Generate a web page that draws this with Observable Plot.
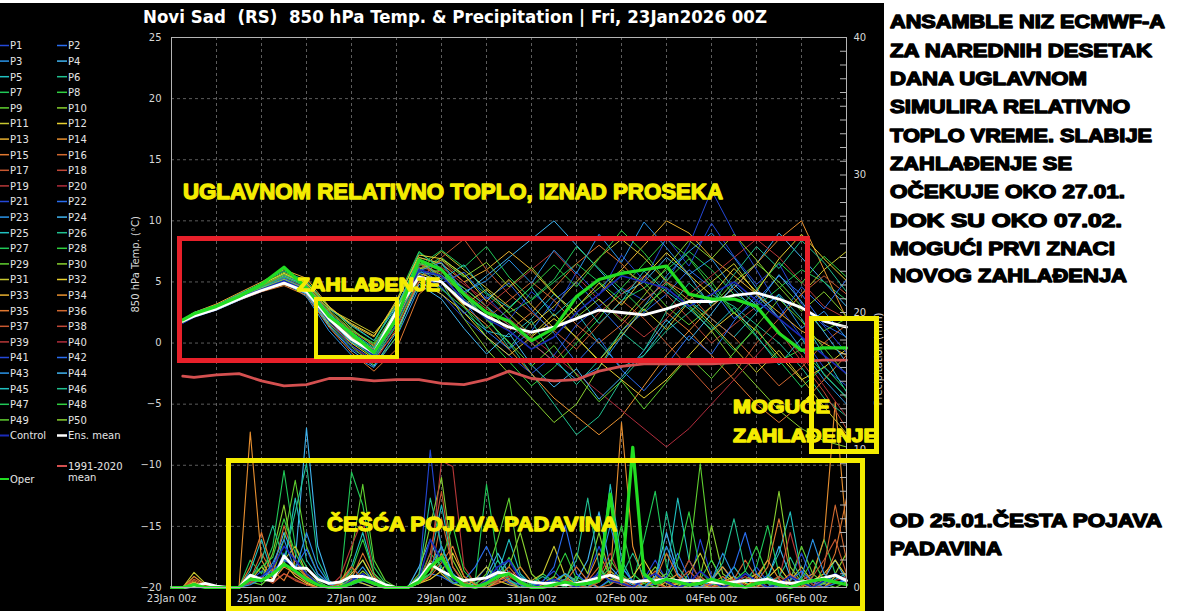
<!DOCTYPE html>
<html><head><meta charset="utf-8">
<script src="https://cdn.jsdelivr.net/npm/d3@7"></script>
<script src="https://cdn.jsdelivr.net/npm/@observablehq/plot@0.6"></script>
<style>
html,body{margin:0;padding:0;background:#fff;}
#wrap{position:relative;width:1200px;height:611px;overflow:hidden;background:#fff;}
#panel{position:absolute;left:0;top:3px;width:884px;height:608px;background:#000;}
#chart{position:absolute;left:0;top:0;}
#over{position:absolute;left:0;top:0;}
</style></head>
<body><div id="wrap"><div id="panel"></div><div id="chart"></div><svg id="over" width="1200" height="611" xmlns="http://www.w3.org/2000/svg"></svg></div>
<script>
// ---------- time grids (hours after 23 Jan 2026 00Z) ----------
const hoursT = [6,12,24,36,48,60,72,84,96,108,120,132,144,156,168,180,192,204,216,228,240,252,264,276,288,300,312,324,336,348,360];
const hoursP = d3.range(0, 361, 6);

// ---------- 850 hPa temperature (°C) ----------
const tempMean = [1.8,2.2,2.8,3.6,4.3,4.9,4.2,2.0,0.3,-0.8,2.6,5.4,5.0,3.3,2.2,1.3,0.9,1.3,2.0,2.7,2.5,2.3,2.8,3.4,3.4,3.9,4.1,3.6,2.9,1.8,1.3];
const tempOper = [1.9,2.4,3.0,3.8,4.8,6.2,4.5,2.2,0.8,-0.8,2.0,6.8,6.0,4.0,2.5,1.8,0.2,1.2,3.8,5.2,5.7,6.0,6.3,4.0,3.6,3.6,3.0,0.8,-0.6,-0.4,-0.4];
const tempClim = [-2.7,-2.8,-2.6,-2.5,-3.1,-3.5,-3.4,-2.9,-2.9,-3.1,-3.0,-3.0,-3.3,-3.4,-3.0,-2.3,-2.9,-3.1,-3.0,-2.3,-1.9,-1.7,-1.7,-1.7,-1.7,-1.6,-1.6,-1.5,-1.5,-1.4,-1.4];
const tempControl = [1.8,2.3,2.9,3.7,4.4,5.1,4.3,2.0,0.3,-1.0,2.0,6.0,5.5,3.5,2.0,1.0,-0.5,0.5,2.5,4.0,5.5,5.0,4.5,3.0,4.0,5.0,3.5,2.0,0.5,-1.0,-2.5];
const tempP01 = [1.6,2.1,2.7,3.5,4.2,4.8,4.0,1.5,-0.5,-1.5,1.5,5.0,4.0,2.0,0.5,-1.0,-2.5,-1.0,1.5,3.0,4.5,3.5,5.0,8.0,12.5,9.0,6.0,3.0,0.5,-2.0,-3.5];
const tempP02 = [1.9,2.4,3.0,3.9,4.6,5.4,4.6,2.5,0.5,-1.0,2.0,5.8,5.5,3.5,1.0,-0.5,1.0,3.5,5.0,3.0,1.0,2.5,4.0,6.0,4.5,2.0,3.5,5.5,4.0,1.5,0.5];
const tempP03 = [1.8,2.2,2.8,3.6,4.3,5.0,3.8,1.0,-1.0,-2.0,0.5,4.5,5.5,4.5,3.0,1.5,0.0,-1.5,-3.0,-2.0,0.5,3.0,5.5,7.5,9.0,7.0,4.5,2.0,-0.5,-3.0,-5.0];
const tempP04 = [1.7,2.3,3.0,3.8,4.5,5.2,4.5,2.8,1.5,0.2,3.0,6.5,6.0,4.0,5.5,7.0,8.5,10.0,8.0,6.0,4.0,5.0,7.0,5.5,3.0,4.5,6.5,9.0,7.0,5.0,3.0];
const tempP05 = [1.8,2.3,2.9,3.6,4.3,4.9,4.4,2.0,0.0,-0.8,2.5,6.0,4.5,2.5,1.0,0.5,2.0,4.0,2.5,0.0,-2.0,-1.0,1.5,3.5,2.0,0.5,2.5,4.0,2.0,-1.0,-4.0];
const tempP06 = [1.9,2.5,3.1,3.9,4.7,5.6,4.8,2.2,0.8,-0.5,2.8,7.0,6.5,4.0,2.0,0.0,-2.5,-5.0,-7.5,-6.0,-3.0,-1.0,1.0,2.5,4.0,3.0,1.5,0.0,-2.0,-4.5,-6.0];
const tempP07 = [1.8,2.3,2.8,3.7,4.4,5.3,4.0,1.8,0.3,-1.2,1.8,6.0,7.0,5.5,4.0,2.5,3.5,5.0,6.5,5.0,3.5,4.5,6.0,7.5,6.0,4.0,3.0,4.5,6.0,5.0,3.5];
const tempP08 = [1.7,2.2,2.9,3.8,4.6,5.7,4.7,2.5,1.0,0.0,3.5,7.5,6.0,3.0,0.5,-1.5,-3.5,-2.0,0.0,2.0,4.5,6.5,8.5,7.0,5.0,2.5,0.5,-1.5,-0.5,-2.5,-4.5];
const tempP09 = [1.8,2.4,3.0,3.8,4.5,5.1,4.2,1.5,-0.3,-1.8,0.5,5.5,6.0,4.5,3.0,1.0,-0.5,1.0,3.0,4.5,6.0,5.0,3.0,1.5,3.0,5.0,6.5,5.0,3.0,1.0,2.0];
const tempP10 = [1.9,2.4,3.1,4.0,4.8,5.8,5.0,3.0,1.2,-0.3,2.5,6.8,5.0,2.0,-0.5,-2.5,-4.5,-6.5,-5.0,-2.0,1.0,3.0,4.5,3.0,1.0,-1.5,-3.5,-5.5,-7.0,-8.0,-8.5];
const tempP11 = [1.8,2.3,2.8,3.6,4.4,5.0,4.6,2.8,1.8,0.8,3.0,6.0,7.5,6.0,4.5,3.0,1.5,3.0,5.0,7.0,8.5,7.0,5.0,3.5,5.0,6.5,4.0,2.0,4.0,6.0,7.5];
const tempP12 = [1.7,2.2,2.8,3.6,4.3,4.8,4.1,1.6,0.0,-1.3,1.0,5.0,4.0,2.5,0.5,-1.0,0.5,2.0,0.5,-1.5,-3.0,-4.5,-3.0,-1.0,1.0,2.5,1.0,-1.0,-3.0,-2.0,-0.5];
const tempP13 = [1.9,2.5,3.2,4.1,5.0,6.0,5.3,3.0,1.5,0.5,3.5,7.0,6.5,5.0,6.0,7.5,6.0,4.0,2.5,4.0,6.0,8.0,10.0,9.0,7.0,5.5,4.0,2.5,1.0,0.0,-1.0];
const tempP14 = [1.8,2.3,2.9,3.7,4.4,5.0,4.3,2.0,0.5,-0.5,2.0,5.5,5.0,3.0,1.5,-0.5,-2.5,-4.5,-6.0,-7.5,-6.0,-3.5,-1.0,1.0,3.0,4.5,6.5,8.5,10.0,6.0,2.0];
const tempP15 = [1.7,2.2,2.8,3.5,4.2,4.7,3.9,1.3,-0.8,-2.3,-0.5,4.0,5.5,4.0,2.5,1.0,2.5,4.5,6.5,8.0,6.5,4.5,2.5,1.0,-1.0,-3.0,-5.0,-6.5,-5.0,-3.0,-1.0];
const tempP16 = [1.8,2.4,3.0,3.8,4.6,5.4,4.8,2.6,1.0,-0.2,2.5,6.5,5.5,3.5,2.0,3.5,5.0,3.5,1.5,0.0,1.5,3.5,5.0,4.0,2.0,0.5,-1.5,-3.5,-2.0,0.0,1.5];
const tempP17 = [1.9,2.4,3.0,3.9,4.7,5.5,4.7,2.4,0.6,-0.8,1.5,5.0,7.0,8.5,6.0,4.0,2.5,1.0,-0.5,1.5,3.5,2.0,0.0,-2.0,-4.0,-2.5,0.0,2.0,4.0,5.5,4.0];
const tempP18 = [1.8,2.3,2.9,3.7,4.5,5.2,4.4,2.1,0.4,-1.0,2.2,6.2,5.8,4.2,2.8,1.5,0.0,-1.5,0.5,2.5,4.0,5.5,4.0,2.0,0.0,1.5,3.0,1.0,-1.5,-4.0,-7.0];
const tempP19 = [1.7,2.2,2.7,3.5,4.3,5.0,4.2,1.9,-0.2,-1.6,1.2,5.3,6.8,5.0,3.0,4.5,6.0,7.5,5.5,3.5,2.0,0.5,2.0,4.0,5.5,7.0,8.5,7.0,5.0,3.0,2.0];
const tempP20 = [1.8,2.3,2.9,3.8,4.6,5.3,4.5,2.3,0.7,-0.7,2.4,6.4,6.2,4.8,3.5,2.0,0.5,-1.0,-2.5,-4.0,-5.5,-7.0,-8.5,-7.0,-5.0,-3.0,-1.0,1.0,-1.0,-3.5,-6.0];
const tempP21 = [1.7,2.3,2.9,3.6,4.4,5.1,4.1,1.7,-0.2,-1.4,1.6,5.6,4.6,2.4,3.8,1.9,4.2,2.6,5.8,3.9,7.2,5.1,8.6,6.3,9.8,7.1,4.8,6.5,3.2,1.4,-0.8];
const tempP22 = [1.8,2.2,2.8,3.7,4.5,5.3,4.4,2.2,0.6,-0.6,2.2,6.1,4.9,5.8,3.6,4.9,2.7,0.8,-1.6,0.4,-2.2,-3.9,-1.8,0.6,-0.9,1.8,3.9,2.1,4.6,2.8,5.2];
const tempP23 = [1.9,2.4,3.0,3.9,4.6,5.0,4.2,1.9,0.1,-1.1,1.9,5.9,6.6,4.2,5.1,6.8,4.9,7.6,5.7,8.9,6.6,9.9,7.8,5.6,6.9,4.4,2.6,3.9,1.2,2.6,0.4];
const tempP24 = [1.7,2.2,2.7,3.5,4.3,4.9,4.0,1.4,-0.6,-1.9,0.9,4.8,3.6,1.2,-0.9,0.8,-1.8,-3.6,-2.1,-4.6,-2.8,-0.6,1.9,0.2,2.4,4.8,3.1,5.6,3.4,0.9,-1.6];
const tempP25 = [1.8,2.3,2.8,3.7,4.5,5.5,4.7,2.4,0.9,-0.4,2.9,6.9,5.2,6.4,4.1,2.9,4.6,2.2,3.9,1.6,3.4,5.9,4.2,2.8,1.1,2.9,0.6,-1.8,0.4,-2.6,-4.4];
const tempP26 = [1.9,2.5,3.1,4.0,4.9,5.9,5.1,2.9,1.4,0.2,3.2,7.4,6.1,3.6,2.2,-0.4,1.8,-1.2,-3.4,-1.4,0.9,-0.6,2.6,4.9,3.2,5.6,7.9,6.1,8.4,6.6,4.2];
const tempP27 = [1.8,2.3,2.9,3.8,4.6,5.4,4.6,2.3,0.6,-0.9,2.1,6.3,7.6,6.2,7.9,5.4,3.6,5.2,7.9,6.1,4.4,2.6,4.9,3.1,1.4,-0.6,1.2,-1.4,-3.6,-1.9,-3.9];
const tempP28 = [1.7,2.2,2.8,3.6,4.4,5.2,4.3,2.0,0.2,-1.2,1.4,5.4,4.4,2.9,1.2,2.8,4.6,6.4,4.6,6.9,9.2,7.4,5.1,6.9,4.6,2.4,4.4,6.6,4.9,7.1,5.4];
const tempP29 = [1.9,2.4,3.0,3.9,4.7,5.6,4.9,2.7,1.1,-0.1,2.7,6.6,5.6,3.9,1.9,0.1,-1.9,-0.2,-2.6,-4.8,-3.1,-5.4,-3.2,-1.1,-2.9,-0.8,1.4,3.6,1.8,-0.4,-2.6];
const tempP30 = [1.8,2.3,2.9,3.7,4.5,5.2,4.4,2.1,0.5,-0.9,2.2,6.0,6.8,5.4,6.6,4.6,6.2,4.1,2.1,3.6,1.8,3.9,6.2,8.4,6.9,8.9,6.8,4.6,2.6,4.2,2.2];
const tempP31 = [1.7,2.2,2.8,3.6,4.3,5.0,4.3,2.2,0.4,-0.8,1.8,5.7,5.1,3.1,4.4,2.4,0.6,2.4,0.4,-1.4,0.6,2.8,1.1,3.4,1.6,-0.4,-2.4,-0.6,-2.9,-5.2,-7.4];
const tempP32 = [1.8,2.4,3.0,3.9,4.8,5.7,4.9,2.9,1.6,0.6,3.3,7.2,6.9,5.6,3.4,5.2,3.1,1.2,2.9,4.9,3.1,5.4,7.4,5.6,3.9,6.1,4.2,6.9,8.9,6.9,5.1];

// ---------- 6-hourly precipitation (mm) ----------
const precMean = [0,0,0.1,0.3,0.1,0,0,0.9,0.6,0.5,2.3,1.4,1.4,0.6,0.3,0.4,0.8,0.8,0.6,0.2,0,0,0.6,1.7,1.2,0.8,0.5,0.6,0.7,1.1,1.0,0.6,0.4,0.3,0.3,0.2,0.3,0.5,0.7,0.9,0.6,0.4,0.5,0.5,0.6,0.5,0.5,0.5,0.4,0.3,0.4,0.5,0.5,0.6,0.4,0.3,0.4,0.5,0.7,0.9,0.5];
const precOper = [0,0,0.2,0,0,0,0,0.6,0.5,1.0,1.7,1.2,0.6,0.2,0,0,0.3,0.6,0.3,0,0,0,0.4,1.5,2.2,0.8,0.2,0,0.3,0.8,1.0,0.4,0,0,0.2,0.4,0.2,0.3,0.5,6.8,0.4,10.2,1.0,0.3,0.6,0.4,0.2,0.3,0.6,0.4,0.2,0,0.3,0.4,0.2,0,0.3,0.5,0.6,0.4,0.2];
const precControl = [0,0,0,0,0,0,0,0.5,0.8,1.5,3.0,2.0,1.0,0.3,0,0,0.5,1.0,0.4,0,0,0,0.6,3.5,2.0,0.6,0.2,0,0.5,1.5,2.0,0.6,0,0.3,0.6,0.3,0,0.5,1.0,0.5,0.3,0,0.6,1.0,0.4,0,0.3,1.2,0.5,0,0.4,1.0,0.5,0,0.3,0.8,0.4,0,0.5,1.0,0.5];
const precA = [0,0,0,0,0,0,0,0.5,1.2,0.8,2.5,1.0,0.5,0.2,0,0,0.6,0.3,0,0,0,0,0.8,10.0,2.5,0.6,0.2,0.5,1.5,0.8,0.3,0,0,0.5,1.2,0.3,0,0.8,3.0,1.0,0.4,0,0.6,2.0,0.5,0,0,3.5,0.8,0.2,0,0.5,1.5,0.4,0,0.6,2.5,0.5,0.2,0.8,0.3];
const precB = [0,0,0.2,0,0,0,0,0.8,0.4,1.5,4.0,2.0,11.6,3.0,0.5,0,0.3,1.0,0.2,0,0,0,1.5,3.5,1.2,0.4,0,0.3,0.8,2.5,1.0,0.2,0,0,0.4,1.0,0.5,2.0,5.5,1.5,0.6,0.2,0,0.8,4.0,1.0,0.3,0,0.5,1.5,0.4,0,0,0.7,3.0,0.8,0.2,0,0.6,2.0,0.5];
const precC = [0,0,0,0,0,0,0,1.2,3.5,0.8,1.5,6.5,2.0,0.8,0.2,0,1.5,4.0,1.0,0.2,0,0,0.5,2.0,6.0,1.5,0.3,0,0.4,1.0,3.5,1.0,0.2,0,0,0.6,0.3,0,1.0,7.5,2.0,0.4,0,0.5,1.0,6.5,2.0,0.5,0,0.3,1.5,0.4,0,0.8,2.5,5.5,1.0,0.2,0,0.6,1.0];
const precD = [0,0,0.3,0,0,0,0,2.0,1.0,3.0,8.5,3.0,1.5,0.5,0,0.2,8.4,6.0,1.5,0.3,0,0,0.6,2.5,1.5,0.4,0,0.5,7.5,2.0,0.5,0,0.3,1.0,0.4,0,0.8,0.3,0,0.5,1.0,0.3,3.5,7.0,1.5,0.3,0,0.6,2.0,0.5,0,0.4,1.5,4.5,1.0,0.2,0,0.8,3.5,1.0,0.3];
const precE = [0,0,0,0,0,0,0,0.4,0.2,1.0,3.5,7.8,3.0,1.0,0.3,0,2.5,7.5,2.0,0.5,0,0,0.3,1.0,3.0,0.8,0,0.2,1.0,3.5,6.5,1.5,0.4,0,0.2,1.0,0.4,0,0.6,2.0,0.8,0.3,0,0.5,1.0,0.4,2.0,9.0,2.0,0.5,0,0.6,1.0,0.3,0,0.5,3.0,1.0,0.3,0,0.4];
const precF = [0,0,0,0,0,0,0,0.3,0.6,2.5,6.0,1.5,0.8,0.3,0,0,0.4,1.2,0.5,0,0,0,1.0,4.5,8.0,2.0,0.5,0,0.3,0.8,1.5,4.0,1.0,0.2,0,0.5,2.5,1.0,4.0,0.8,0.3,0,0.5,1.5,0.6,0.2,0,0.8,4.5,1.0,0.4,0,0.6,2.0,7.0,1.5,0.4,0,0.3,1.0,2.5];
const precG = [0,0,1.1,0.3,0,0,0,0.5,1.5,0.6,2.0,3.0,1.0,0.4,0,0.2,0.5,0.3,0,0,0,0,0.4,2.0,1.0,0.3,0,0.6,1.5,0.5,0.2,0,0.5,1.0,3.0,0.8,0.2,0,0.4,1.2,0.5,0,0.3,0.8,0.3,0,1.0,2.5,0.6,0.2,0,0.4,1.0,0.3,0,0.5,1.5,0.4,0,0.8,0.5];
const precH = [0,0,0.8,0.2,0,0,0,11.3,2.0,0.5,1.5,1.0,0.4,0,0,0.5,1.5,0.6,0.2,0,0,0,0.5,1.0,2.5,0.8,0.2,0,0.6,1.0,0.4,0,0,0.3,0.8,0.3,0,0.7,2.5,0.8,12.0,3.0,0.5,0,0.4,1.0,0.3,0,0.6,1.5,0.5,0,0.8,2.0,0.6,0,0.5,1.0,3.5,13.5,4.0];
const precI = [0,0,0,0,0,0,0,0.6,2.5,1.0,4.5,2.0,0.6,0.2,0,0,0.3,0.8,0.3,0,0,0,0.3,0.8,5.0,1.5,0.4,0,0.2,0.6,1.5,0.5,0,0,0.4,0.2,0,0.5,1.5,0.5,0.2,0,0.4,1.2,0.4,0,0.3,0.8,0.2,0,0.6,2.0,0.7,0,0.3,1.0,0.4,0,1.5,6.0,2.0];
const precJ = [0,0,0,0,0,0,0,0.3,0.8,0.4,1.0,0.6,0.2,0,0,0.8,3.0,5.0,1.0,0.2,0,0,0.5,1.5,9.2,8.8,1.5,0.3,0,0.4,1.2,0.5,0,0,0.3,0.6,0.2,0,0.8,2.5,0.6,0,0.5,0.3,0,0.4,2.0,0.5,0.1,0,0.3,0.8,0.2,0,0.6,4.0,1.0,0.2,0,0.5,0.8];
const precK = [0,0,0,0,0,0,0,0.4,0.8,1.2,2.0,1.5,2.8,1.0,0.3,0,0.2,0.5,0.2,0,0,0,0.4,1.0,0.8,0.3,0.5,1.5,3.0,1.2,0.5,0.2,0,0.4,1.5,4.5,1.0,0.3,0,0.6,1.5,0.5,0,0.3,0.8,2.5,0.6,0,0.2,0.5,1.5,4.0,1.0,0.3,0,0.5,1.2,0.4,0,0.3,0.6];
const precL = [0,0,0.2,0,0,0,0,0.6,2.0,4.5,2.0,5.5,9.0,2.0,0.4,0,0.8,2.0,0.6,0,0,0,0.8,6.5,3.0,1.0,0.2,0,0.5,2.0,0.6,0,0.3,0.8,0.3,0.6,2.0,6.5,1.5,0.3,0.8,2.5,0.8,0.2,5.5,1.5,0.4,0,0.6,1.8,5.0,1.2,0.3,0,0.8,2.2,0.6,0,0.4,1.0,0.5];
const precM = [0,0,0.4,0,0,0,0,0.8,0.5,1.0,1.8,0.8,0.3,0,0,0.3,1.0,2.0,0.5,0,0,0,0.3,0.6,1.2,2.5,0.8,0.2,0,0.5,1.0,0.3,0,0.2,0.6,0.2,0,0.4,1.0,0.6,0.3,0.8,2.0,0.6,0,0.3,0.5,0.2,0,0.4,0.8,0.3,0,0.7,1.5,0.4,0,0.5,1.0,2.0,0.8];
const precN = [0,0,0,0,0,0,0,0.8,1.5,2.2,5.0,2.5,1.0,0.3,0,0.3,1.2,3.5,1.0,0.2,0,0,0.4,1.0,2.0,4.5,1.2,0.3,0,0.6,2.2,0.8,0.2,0,0.8,2.5,0.6,0,0.5,1.5,4.5,1.0,0.3,0,0.6,2.0,5.5,1.2,0.3,0,0.5,1.2,3.0,0.8,0.2,0,0.6,2.0,0.5,0.3,0.2];
const precO = [0,0,0.5,0.1,0,0,0,1.5,4.0,1.2,0.5,2.0,0.8,0.2,0,0,0.6,2.5,0.8,0,0,0,0.3,0.8,1.8,3.0,0.8,0.2,0,0.3,0.6,1.5,0.4,0,0,0.4,1.5,0.5,0,0.2,0.8,0.3,0,0.5,2.5,0.8,0.2,0,0.3,0.8,0.2,0,0.4,1.5,5.0,1.0,0.2,0,0.6,2.5,6.5];
const precP = [0,0,0,0,0,0,0,0.2,0.6,1.8,3.5,1.2,4.0,1.5,0.3,0,0.5,1.5,0.4,0,0,0,0.6,1.5,3.0,1.0,0.3,0,0.4,1.0,2.0,0.8,0.3,0,0.5,1.0,0.3,0,1.2,4.5,1.5,0.4,0,0.8,3.0,1.0,0.2,0,0.5,2.5,0.8,0,0.3,0.9,0.3,0,0.8,3.5,1.0,0.3,0.5];
const precQ = [0,0,0.6,0.2,0,0,0,0.4,0.8,0.3,1.0,0.5,0.2,0,0,0.3,1.5,0.6,0.2,0,0,0,0.3,2.5,7.0,1.5,0.3,0,0.2,0.5,0.8,0.3,0,0,0.2,0.5,0.2,0,0.4,1.0,0.3,0,0.6,0.3,0,0.5,1.2,0.4,0,0.3,0.6,0.2,0,0.4,0.8,0.3,0,0.8,2.0,3.5,1.0];

// ---------- colours & labels ----------
const palette = ["#2448d8","#2a6ef0","#2a94e8","#40b4f0","#20c0c0","#20c090","#20c858","#30d040","#60d030","#88d030","#c8c830","#e8d030","#e8b030","#e89030","#e07830","#d06830","#c85830","#c04838","#b83838","#b02c3c"];
const memberLabels = d3.range(1, 51).map(k => "P" + k);
const dayTicks = d3.range(0, 16);            // gridlines, days after 23Jan
const dateLabelDays = [0, 2, 4, 6, 8, 10, 12, 14];
const tempTicks = [-20, -15, -10, -5, 0, 5, 10, 15, 20, 25];
const mmMajor = [0, 10, 20, 30, 40];
const mmMinor = d3.range(0, 41, 1);

const tempMembers = [tempP01,tempP02,tempP03,tempP04,tempP05,tempP06,tempP07,tempP08,tempP09,tempP10,tempP11,tempP12,tempP13,tempP14,tempP15,tempP16,tempP17,tempP18,tempP19,tempP20,
                     tempP21,tempP22,tempP23,tempP24,tempP25,tempP26,tempP27,tempP28,tempP29,tempP30,tempP31,tempP32];
const precMembers = [precA,precB,precC,precD,precE,precF,precG,precH,precI,precJ,precK,precL,precM,precN,precO,precP,precQ];
const precColorIdx = [0,3,4,6,8,9,10,13,15,18,1,5,11,7,14,2,16];

// ---------- helpers ----------
const T0 = Date.UTC(2026, 0, 23);
const toDate = h => new Date(T0 + h * 3600e3);
const mmToY = p => -20 + p * 45 / 40;   // precipitation axis mapped onto the temperature axis
const rowsT = vals => vals.map((v, i) => ({date: toDate(hoursT[i]), y: v}));
const rowsP = vals => vals.map((v, i) => ({date: toDate(hoursP[i]), y: mmToY(v)}));

const marks = [
  Plot.gridX(dayTicks.map(d => toDate(d * 24)), {stroke: "#5c5c5c", strokeOpacity: 1, strokeDasharray: "3,3"}),
  Plot.gridY(tempTicks, {stroke: "#5c5c5c", strokeOpacity: 1, strokeDasharray: "3,3"})
];
precMembers.forEach((m, i) => {
  marks.push(Plot.line(rowsP(m), {x: "date", y: "y", stroke: palette[precColorIdx[i]], strokeWidth: 1.1}));
});
marks.push(Plot.line(rowsP(precControl), {x: "date", y: "y", stroke: "#1a2ab8", strokeWidth: 1.6}));
marks.push(Plot.line(rowsP(precMean), {x: "date", y: "y", stroke: "#ffffff", strokeWidth: 2.8}));
marks.push(Plot.line(rowsP(precOper), {x: "date", y: "y", stroke: "#22dd22", strokeWidth: 3.2}));
tempMembers.forEach((m, i) => {
  marks.push(Plot.line(rowsT(m), {x: "date", y: "y", stroke: palette[i % 20], strokeWidth: 1}));
});
marks.push(Plot.line(rowsT(tempControl), {x: "date", y: "y", stroke: "#1a2ab8", strokeWidth: 1.6}));
marks.push(Plot.line(rowsT(tempClim), {x: "date", y: "y", stroke: "#d45050", strokeWidth: 2.8}));
marks.push(Plot.line(rowsT(tempMean), {x: "date", y: "y", stroke: "#ffffff", strokeWidth: 2.8}));
marks.push(Plot.line(rowsT(tempOper), {x: "date", y: "y", stroke: "#22dd22", strokeWidth: 3.2}));
marks.push(
  Plot.frame({stroke: "#b4b4b4"}),
  Plot.tickY(mmMinor.map(mmToY), {insetLeft: 669, stroke: "#b4b4b4"}),
  Plot.axisX(dateLabelDays.map(d => toDate(d * 24)), {tickSize: 0, tickPadding: 7, tickFormat: d3.utcFormat("%d%b %Hz"), label: null, fill: "#d8d8d8"}),
  Plot.axisY(tempTicks, {tickSize: 0, tickPadding: 10, label: null, fill: "#d8d8d8"}),
  Plot.axisY(mmMajor.map(mmToY), {anchor: "right", tickSize: 0, tickPadding: 7, label: null, fill: "#d8d8d8",
    tickFormat: d => String(Math.round((d + 20) * 40 / 45))}),
  Plot.text(["850 hPa Temp. (°C)"], {text: d => d, frameAnchor: "left", dx: -36, rotate: -90, fill: "#d8d8d8", fontSize: 10}),
  Plot.text(["Precipitation (mm)"], {text: d => d, frameAnchor: "right", dx: 32, rotate: -90, fill: "#d8d8d8", fontSize: 10})
);

const chart = Plot.plot({
  width: 884, height: 611,
  marginLeft: 171, marginRight: 38, marginTop: 37, marginBottom: 24,
  style: {background: "transparent", color: "#d8d8d8", fontFamily: "DejaVu Sans, sans-serif", fontSize: "10px"},
  x: {type: "utc", domain: [toDate(0), toDate(360)]},
  y: {domain: [-20, 25]},
  marks: marks
});
document.getElementById("chart").appendChild(chart);

// ---------- overlay: title, legend, annotations ----------
const NS = "http://www.w3.org/2000/svg";
const over = document.getElementById("over");
function el(tag, attrs, text) {
  const e = document.createElementNS(NS, tag);
  for (const k in attrs) e.setAttribute(k, attrs[k]);
  if (text != null) e.textContent = text;
  over.appendChild(e);
  return e;
}
function txt(s, x, y, w, opt) {
  const a = Object.assign({x: x, y: y}, opt);
  if (w) { a.textLength = w; a.lengthAdjust = "spacingAndGlyphs"; }
  return el("text", a, s);
}

// title
txt("Novi Sad  (RS)  850 hPa Temp. & Precipitation | Fri, 23Jan2026 00Z", 143, 23, 624,
  {fill: "#fff", "font-family": "DejaVu Sans", "font-weight": "bold", "font-size": 17, style: "white-space:pre"});

// legend
const legFont = {fill: "#e4e4e4", "font-family": "DejaVu Sans", "font-size": 10};
memberLabels.forEach((lab, k) => {
  const row = Math.floor(k / 2), col = k % 2;
  const y = 45.5 + row * 15.6;
  const x0 = col ? 57 : 0, x1 = col ? 67 : 9, tx = col ? 68 : 10;
  el("line", {x1: x0, x2: x1, y1: y, y2: y, stroke: palette[k % 20], "stroke-width": 1.5});
  txt(lab, tx, y + 3.8, null, legFont);
});
const yCtl = 45.5 + 25 * 15.6;
el("line", {x1: 0, x2: 9, y1: yCtl, y2: yCtl, stroke: "#1a2ab8", "stroke-width": 2});
txt("Control", 10, yCtl + 3.8, null, legFont);
el("line", {x1: 57, x2: 67, y1: yCtl, y2: yCtl, stroke: "#ffffff", "stroke-width": 2.5});
txt("Ens. mean", 68, yCtl + 3.8, null, legFont);
el("line", {x1: 57, x2: 67, y1: 466, y2: 466, stroke: "#d45050", "stroke-width": 2});
txt("1991-2020", 68, 470, null, legFont);
txt("mean", 68, 481, null, legFont);
el("line", {x1: 0, x2: 9, y1: 479, y2: 479, stroke: "#22dd22", "stroke-width": 2});
txt("Oper", 10, 483, null, legFont);

// annotation boxes
const yel = "#f4ec00";
el("rect", {x: 179.5, y: 238.5, width: 628, height: 122, fill: "none", stroke: "#e8202a", "stroke-width": 5});
el("rect", {x: 316, y: 299, width: 81, height: 58, fill: "none", stroke: yel, "stroke-width": 4});
el("rect", {x: 811.5, y: 318.5, width: 65, height: 133, fill: "none", stroke: yel, "stroke-width": 5});
el("rect", {x: 228.5, y: 460.5, width: 634, height: 148, fill: "none", stroke: yel, "stroke-width": 5});

// yellow annotation text
const yFont = s => ({fill: yel, stroke: yel, "stroke-width": 1.3, "stroke-linejoin": "round", "font-family": "Liberation Sans, Arial, sans-serif", "font-weight": "bold", "font-size": s});
txt("UGLAVNOM RELATIVNO TOPLO, IZNAD PROSEKA", 183, 199, 540, yFont(22));
txt("ZAHLAĐENJE", 297, 291, 143, yFont(18));
txt("MOGUĆE", 733, 413, 97, yFont(19));
txt("ZAHLAĐENJE", 733, 442, 145, yFont(19));
txt("ČEŠĆA POJAVA PADAVINA", 327, 531, 290, yFont(21));

// right-hand commentary
const bFont = {fill: "#000", stroke: "#000", "stroke-width": 1.3, "stroke-linejoin": "round", "font-family": "Liberation Sans, Arial, sans-serif", "font-weight": "bold", "font-size": 18};
const noteLines = ["ANSAMBLE NIZ ECMWF-A", "ZA NAREDNIH DESETAK", "DANA UGLAVNOM", "SIMULIRA RELATIVNO", "TOPLO VREME. SLABIJE", "ZAHLAĐENJE SE", "OČEKUJE OKO 27.01.", "DOK SU OKO 07.02.", "MOGUĆI PRVI ZNACI", "NOVOG ZAHLAĐENJA"];
const noteWidths = [275, 262, 197, 240, 262, 182, 235, 232, 225, 237];
const noteBase = [28, 57, 85, 113, 142, 170, 198, 227, 255, 282];
noteLines.forEach((s, i) => txt(s, 890, noteBase[i], noteWidths[i], bFont));
txt("OD 25.01.ČESTA POJAVA", 890, 527, 272, bFont);
txt("PADAVINA", 890, 555, 112, bFont);
</script>
</body></html>
